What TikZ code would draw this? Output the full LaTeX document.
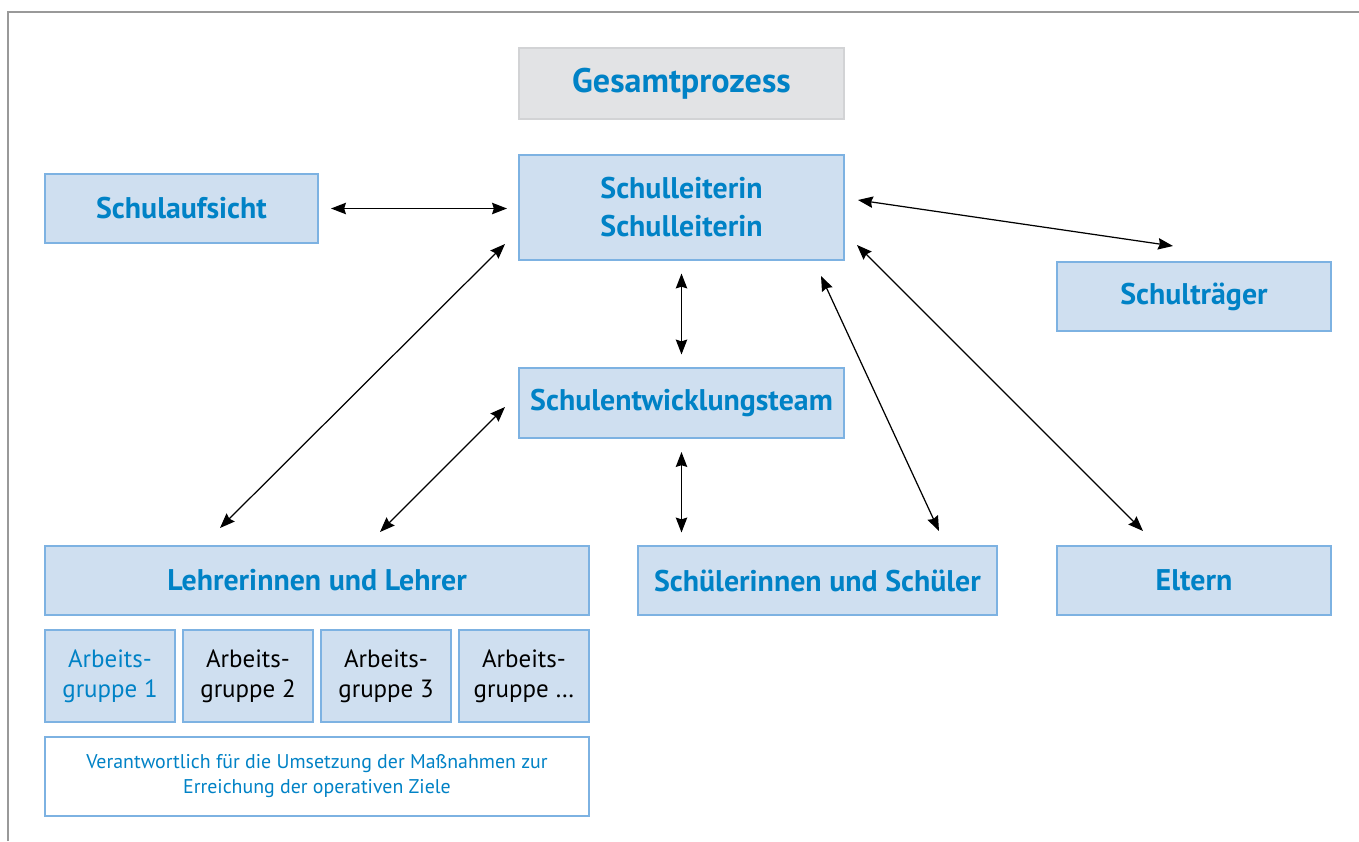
\documentclass[tikz,border=0pt]{standalone}
\usepackage{fontspec}
\setmainfont{PT Sans}
\usepackage{xcolor}
\usepackage{tikz}
\usetikzlibrary{arrows.meta,positioning}

\definecolor{boxfill}{RGB}{207,223,240}
\definecolor{boxline}{RGB}{125,178,226}
\definecolor{textblue}{RGB}{0,130,198}
\definecolor{grayfill}{RGB}{226,227,229}
\definecolor{grayline}{RGB}{210,211,213}

\begin{document}
\begin{tikzpicture}[
  arr/.style={{Stealth[length=8.5pt,width=6.5pt,inset=1pt]}-{Stealth[length=8.5pt,width=6.5pt,inset=1pt]}, line width=0.7pt},
  box/.style={rectangle, draw=boxline, fill=boxfill, line width=0.8pt, text=textblue,
              inner sep=0pt, outer sep=0pt, align=center},
  head/.style={box, font=\fontsize{17}{21.6}\selectfont\bfseries, minimum height=1.38cm},
  agbox/.style={box, minimum width=2.6cm, minimum height=1.84cm, text=black,
                font=\fontsize{14.2}{17}\selectfont},
]
\useasboundingbox (0,0) rectangle (27.18,-16.82);
\draw[gray!80, line width=0.9pt] (0.16,-16.82) -- (0.16,-0.24) -- (27.18,-0.24);

% top row
\node[head, fill=grayfill, draw=grayline, minimum width=6.5cm, minimum height=1.42cm,
      font=\fontsize{19.4}{23}\selectfont\bfseries] (ges) at (13.63,-1.67) {Gesamtprozess};
\node[head, minimum width=6.5cm, minimum height=2.1cm] (leit) at (13.63,-4.15) {Schulleiterin\\Schulleiterin};
\node[head, minimum width=5.46cm] (aufs) at (3.63,-4.17) {Schulaufsicht};
\node[head, minimum width=5.48cm] (traeger) at (23.88,-5.93) {Schulträger};
\node[head, minimum width=6.5cm, minimum height=1.4cm] (seteam) at (13.63,-8.06) {Schulentwicklungsteam};

% bottom row
\node[head, minimum width=10.88cm] (lehrer) at (6.34,-11.61) {Lehrerinnen und Lehrer};
\node[head, minimum width=7.18cm] (schueler) at (16.35,-11.61) {Schülerinnen und Schüler};
\node[head, minimum width=5.48cm] (eltern) at (23.88,-11.61) {Eltern};

% Arbeitsgruppen
\node[agbox, text=textblue, below=0.3cm of lehrer.south west, anchor=north west] (ag1) {Arbeits-\\gruppe 1};
\node[agbox, right=0.16cm of ag1] (ag2) {Arbeits-\\gruppe 2};
\node[agbox, right=0.16cm of ag2] (ag3) {Arbeits-\\gruppe 3};
\node[agbox, right=0.16cm of ag3] (ag4) {Arbeits-\\gruppe \dots};
\node[box, fill=white, minimum width=10.88cm, minimum height=1.58cm, font=\fontsize{11.3}{14.2}\selectfont,
      below=0.3cm of ag1.south west, anchor=north west] (verant)
  {Verantwortlich für die Umsetzung der Maßnahmen zur\\Erreichung der operativen Ziele};

% arrows
\draw[arr, shorten <=0.26cm, shorten >=0.24cm] (aufs.east) -- (aufs.east -| leit.west);
\draw[arr, shorten <=0.27cm, shorten >=0.27cm] (leit) -- (seteam);
\draw[arr, shorten <=0.28cm, shorten >=0.27cm] (seteam.south) -- (seteam.south |- schueler.north);
\draw[arr] ([xshift=-.28cm,yshift=.32cm]leit.south west) -- ([xshift=3.5cm,yshift=.36cm]lehrer.north west);
\draw[arr] ([xshift=-.28cm,yshift=-.08cm]seteam.west) -- ([xshift=6.7cm,yshift=.28cm]lehrer.north west);
\draw[arr] ([xshift=.28cm,yshift=.15cm]leit.east) -- ([xshift=2.32cm,yshift=.32cm]traeger.north west);
\draw[arr] ([xshift=-.46cm,yshift=-.32cm]leit.south east) -- ([xshift=-1.16cm,yshift=.3cm]schueler.north east);
\draw[arr] ([xshift=.26cm,yshift=.3cm]leit.south east) -- ([xshift=1.72cm,yshift=.3cm]eltern.north west);
\end{tikzpicture}
\end{document}
